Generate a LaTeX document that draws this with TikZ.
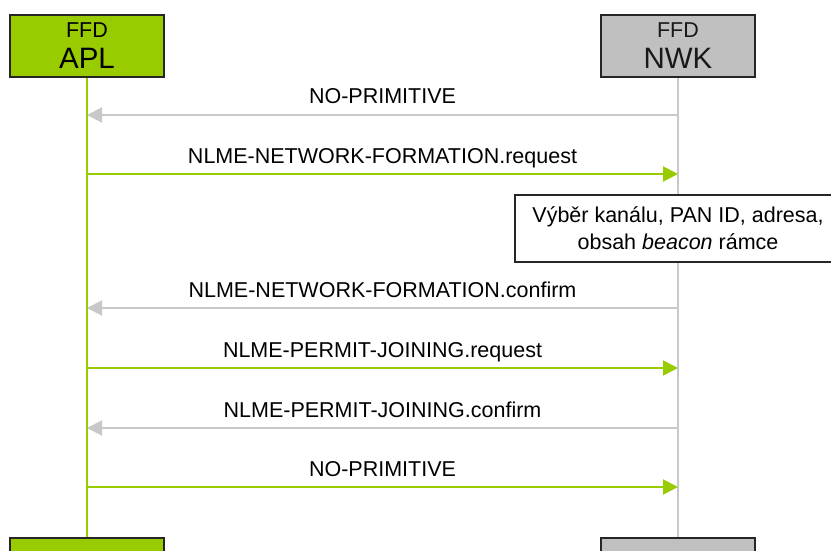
\documentclass[tikz,border=0pt]{standalone}
\usepackage{fontspec}
\setmainfont{Liberation Sans}
\usetikzlibrary{arrows.meta}

\definecolor{aplgreen}{HTML}{99CC00}
\definecolor{nwkgray}{HTML}{C0C0C0}
\definecolor{linegray}{HTML}{C8C8C8}

\tikzset{
  layerbox/.style={draw=black!85, line width=2pt, minimum width=154pt, minimum height=62pt, inner sep=0pt, align=center, font=\fontsize{29.5}{31}\selectfont},
  msgtext/.style={anchor=base, yshift=11pt, font=\fontsize{21.5}{24}\selectfont},
  togreen/.style={draw=aplgreen, line width=2pt, -{Triangle[length=15pt,width=15pt]}},
  togray/.style={draw=linegray, line width=2pt, -{Triangle[length=15pt,width=15pt]}},
}

\begin{document}
\begin{tikzpicture}[x=1pt, y=-1pt]
  \useasboundingbox (0,0) rectangle (831,551);
  \clip (0,0) rectangle (831,551);

  % lifelines first, boxes on top
  \coordinate (aplend) at (87,560);
  \coordinate (nwkend) at (678,560);
  \draw [aplgreen, line width=2pt] (87,46) -- (aplend);
  \draw [linegray, line width=2pt] (678,46) -- (nwkend);

  \node [layerbox, fill=aplgreen] (apl) at (87,46) {{\fontsize{21.5}{26}\selectfont FFD}\\APL}; % top APL box
  \node [layerbox, fill=nwkgray, text=black!90] (nwk) at (678,46) {{\fontsize{21.5}{26}\selectfont FFD}\\NWK}; % top NWK box

  \node [layerbox, fill=aplgreen] (aplbot) at (87,569) {}; % bottom APL box
  \node [layerbox, fill=nwkgray] (nwkbot) at (678,569) {}; % bottom NWK box

  % messages
  \draw [togray] (nwk |- 0,115) -- (apl |- 0,115) node [msgtext, midway] {NO-PRIMITIVE};
  \draw [togreen] (apl |- 0,174) -- (nwk |- 0,174) node [msgtext, midway] {NLME-NETWORK-FORMATION.request};

  \node [draw=black!85, line width=1.5pt, fill=white, minimum width=326pt, minimum height=67pt, align=center,
         font=\fontsize{21.5}{27}\selectfont] (choice) at (678,228.5)
        {Výběr kanálu, PAN ID, adresa,\\obsah \textit{beacon} rámce}; % note on NWK

  \draw [togray] (nwk |- 0,308) -- (apl |- 0,308) node [msgtext, midway] {NLME-NETWORK-FORMATION.confirm};
  \draw [togreen] (apl |- 0,368) -- (nwk |- 0,368) node [msgtext, midway] {NLME-PERMIT-JOINING.request};
  \draw [togray] (nwk |- 0,428) -- (apl |- 0,428) node [msgtext, midway] {NLME-PERMIT-JOINING.confirm};
  \draw [togreen] (apl |- 0,487) -- (nwk |- 0,487) node [msgtext, midway] {NO-PRIMITIVE};
\end{tikzpicture}
\end{document}
